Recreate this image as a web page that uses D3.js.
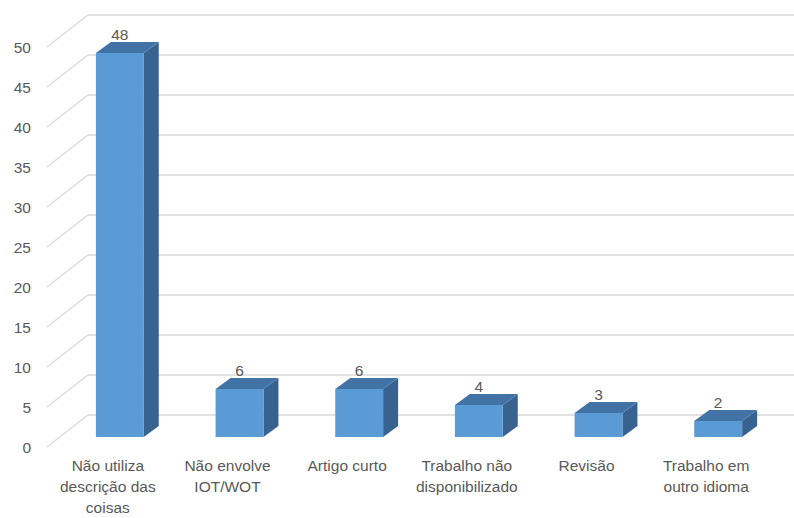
<!DOCTYPE html>
<html>
<head>
<meta charset="utf-8">
<script src="https://cdn.jsdelivr.net/npm/d3@7"></script>
<style>
  body { margin: 0; background: #fff; }
  text { font-family: "Liberation Sans", Arial, sans-serif; fill: #595959; }
</style>
</head>
<body>
<svg id="chart-area"></svg>
<script>
// data
const categories = [
    ["Não utiliza", "descrição das", "coisas"],
    ["Não envolve", "IOT/WOT"],
    ["Artigo curto"],
    ["Trabalho não", "disponibilizado"],
    ["Revisão"],
    ["Trabalho em", "outro idioma"]
]
const values = [48, 6, 6, 4, 3, 2]
const yTicks = [0, 5, 10, 15, 20, 25, 30, 35, 40, 45, 50]

function drawChart() {
    const width = 794
    const height = 518

    const svg = d3.select("#chart-area")
        .attr("width", width)
        .attr("height", height)

    // back wall scale; front edge of the side wall is 41px left, 32px down
    const yBack = d3.scaleLinear().domain([0, 50]).range([415, 15])
    const wallDx = 41, wallDy = 32
    const wallX = 88
    // bars stand 22px below the back plane
    const barDy = 22
    const depthDx = 15, depthDy = 11

    const x = d3.scaleBand()
        .domain(d3.range(categories.length))
        .range([60, 778])
        .paddingInner(0.6)
        .paddingOuter(0.3)

    // gridlines: diagonal on side wall + horizontal on back wall
    const grid = svg.append("g")
    grid.selectAll(".diag")
        .data(yTicks)
        .enter().append("line")
        .attr("x1", wallX - wallDx)
        .attr("y1", d => yBack(d) + wallDy)
        .attr("x2", wallX)
        .attr("y2", d => yBack(d))
        .attr("stroke", "#d9d9d9")
        .attr("stroke-width", 1.3)
    grid.selectAll(".hor")
        .data(yTicks)
        .enter().append("line")
        .attr("x1", wallX)
        .attr("y1", d => yBack(d))
        .attr("x2", width)
        .attr("y2", d => yBack(d))
        .attr("stroke", "#d9d9d9")
        .attr("stroke-width", 1.3)

    // y labels
    svg.append("g").selectAll("text")
        .data(yTicks)
        .enter().append("text")
        .attr("x", 31)
        .attr("y", d => yBack(d) + wallDy)
        .attr("text-anchor", "end")
        .attr("dominant-baseline", "central")
        .style("font-size", "15.5px")
        .text(d => d)

    // bars
    const bars = svg.append("g").selectAll("g")
        .data(values)
        .enter().append("g")

    const y0 = yBack(0) + barDy
    const w = x.bandwidth()

    // side face
    bars.append("path")
        .attr("d", (d, i) => {
            const x1 = x(i) + w
            const yt = yBack(d) + barDy
            return `M${x1},${y0} L${x1 + depthDx},${y0 - depthDy} L${x1 + depthDx},${yt - depthDy} L${x1},${yt} Z`
        })
        .attr("fill", "#386390")
    // top face
    bars.append("path")
        .attr("d", (d, i) => {
            const x0 = x(i)
            const yt = yBack(d) + barDy
            return `M${x0},${yt} L${x0 + depthDx},${yt - depthDy} L${x0 + w + depthDx},${yt - depthDy} L${x0 + w},${yt} Z`
        })
        .attr("fill", "#4273a6")
    // front face
    bars.append("rect")
        .attr("x", (d, i) => x(i))
        .attr("y", d => yBack(d) + barDy)
        .attr("width", w)
        .attr("height", d => y0 - (yBack(d) + barDy))
        .attr("fill", "#5b9bd5")

    // value labels
    bars.append("text")
        .attr("x", (d, i) => x(i) + w / 2)
        .attr("y", d => yBack(d) + barDy - 13)
        .attr("text-anchor", "middle")
        .style("font-size", "15.5px")
        .text(d => d)

    // category labels
    const labels = svg.append("g").selectAll("text")
        .data(categories)
        .enter().append("text")
        .attr("x", (d, i) => x(i) + w / 2 - 12)
        .attr("y", 471)
        .attr("text-anchor", "middle")
        .style("font-size", "15.5px")

    labels.selectAll("tspan")
        .data(d => d)
        .enter().append("tspan")
        .attr("x", function() { return this.parentNode.getAttribute("x") })
        .attr("dy", (d, i) => i === 0 ? 0 : 21)
        .text(d => d)
}

drawChart()
</script>
</body>
</html>
